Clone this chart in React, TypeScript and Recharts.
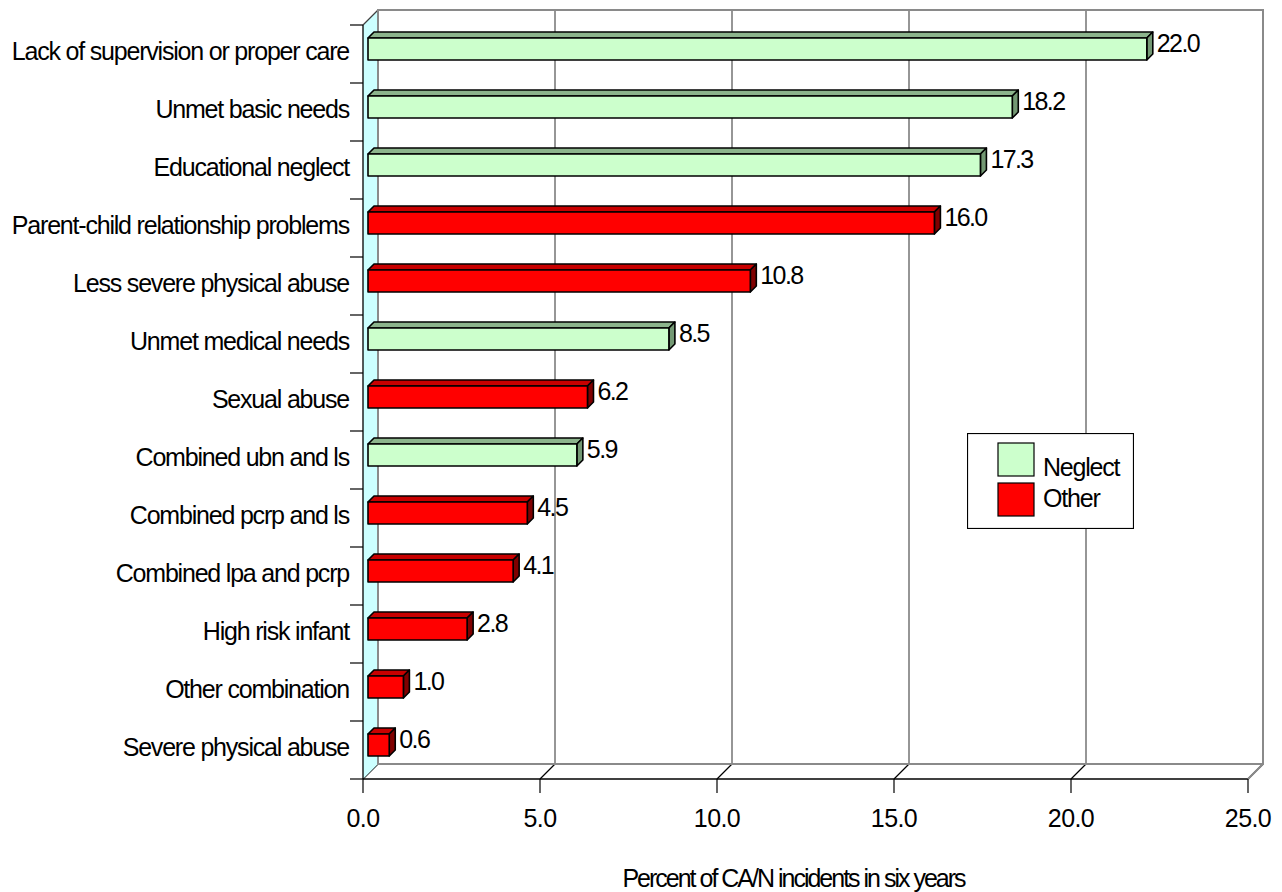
import React from "react";
import {
  BarChart,
  Bar,
  XAxis,
  YAxis,
  CartesianGrid,
  Legend,
  LabelList,
  ReferenceArea,
} from "recharts";

const categories = [
  "Lack of supervision or proper care",
  "Unmet basic needs",
  "Educational neglect",
  "Parent-child relationship problems",
  "Less severe physical abuse",
  "Unmet medical needs",
  "Sexual abuse",
  "Combined ubn and ls",
  "Combined pcrp and ls",
  "Combined lpa and pcrp",
  "High risk infant",
  "Other combination",
  "Severe physical abuse",
];

const neglect = [22.0, 18.2, 17.3, null, null, 8.5, null, 5.9, null, null, null, null, null];
const other = [null, null, null, 16.0, 10.8, null, 6.2, null, 4.5, 4.1, 2.8, 1.0, 0.6];

const xTicks = [0, 5, 10, 15, 20, 25];

const chartData = categories.map((name, i) => ({
  name,
  neglect: neglect[i],
  other: other[i],
}));

const FONT = "'Liberation Sans', Arial, sans-serif";
const DEPTH = 6; // bar extrusion
const BACK = 10; // back wall shift (right / up)
const FRONT = 5; // front plane shift (left / down)

const GREEN = { front: "#CCFFCC", top: "#8CB48C", side: "#739873" };
const RED = { front: "#FF0000", top: "#C80000", side: "#800000" };

const labelText = {
  fontFamily: FONT,
  fontSize: 25,
  letterSpacing: "-1.2px",
  fill: "#000",
} as const;

const numberText = { ...labelText, letterSpacing: "-1.6px" } as const;
const tickText = { ...labelText, letterSpacing: "-0.6px" } as const;
const titleText = { ...labelText, letterSpacing: "-2px" } as const;

const Box3D = (props: any) => {
  const { x, y, width, height, colors } = props;
  if (!(width > 0)) return <g />;
  const d = DEPTH;
  const r = x + width;
  const b = y + height;
  return (
    <g stroke="#000" strokeWidth={1.6} strokeLinejoin="round">
      <polygon
        points={`${x},${y} ${x + d},${y - d} ${r + d},${y - d} ${r},${y}`}
        fill={colors.top}
      />
      <polygon
        points={`${r},${y} ${r + d},${y - d} ${r + d},${b - d} ${r},${b}`}
        fill={colors.side}
      />
      <rect x={x} y={y} width={width} height={height} fill={colors.front} />
    </g>
  );
};

const ValueLabel = (props: any) => {
  const { x, y, width, height, value } = props;
  if (value === null || value === undefined) return null;
  return (
    <text x={x + width + DEPTH + 4} y={y + height / 2 + 3} style={numberText}>
      {Number(value).toFixed(1)}
    </text>
  );
};

// back wall, left wall, floor and category boundary ticks
const Walls = (props: any) => {
  const { x, y, width, height } = props;
  const rows = categories.length;
  const fx = x - FRONT;
  const bx = x + BACK;
  const bottom = y + height;
  const ticks = [];
  for (let i = 0; i <= rows; i++) {
    const ty = y + FRONT + (height * i) / rows;
    ticks.push(<line key={i} x1={fx - 13} y1={ty} x2={fx} y2={ty} stroke="#000" strokeWidth={1.2} />);
  }
  return (
    <g>
      <polygon
        points={`${fx},${y + FRONT} ${bx},${y - BACK} ${bx},${bottom - BACK} ${fx},${bottom + FRONT}`}
        fill="#CCFFFF"
      />
      <line x1={fx} y1={y + FRONT} x2={bx} y2={y - BACK} stroke="#404040" strokeWidth={1.2} />
      <rect
        x={bx}
        y={y - BACK}
        width={width}
        height={height}
        fill="none"
        stroke="#8A8A8A"
        strokeWidth={2}
      />
      <line x1={fx} y1={y + FRONT} x2={fx} y2={bottom + FRONT} stroke="#000" strokeWidth={1.3} />
      <line
        x1={fx}
        y1={bottom + FRONT}
        x2={fx + width}
        y2={bottom + FRONT}
        stroke="#000"
        strokeWidth={1.3}
      />
      <line
        x1={fx + width}
        y1={bottom + FRONT}
        x2={bx + width}
        y2={bottom - BACK}
        stroke="#8A8A8A"
        strokeWidth={2}
      />
      {ticks}
    </g>
  );
};

const GridLine = (props: any) => {
  const { x1, y1, y2 } = props;
  const gx = x1 + BACK;
  return (
    <g key={`g-${x1}`}>
      <line x1={gx} y1={y1 - BACK} x2={gx} y2={y2 - BACK} stroke="#5E5E5E" strokeWidth={1.3} />
      <line x1={gx} y1={y2 - BACK} x2={x1 - FRONT} y2={y2 + FRONT} stroke="#000" strokeWidth={1.2} />
    </g>
  );
};

const CategoryTick = (props: any) => {
  const { x, y, payload } = props;
  return (
    <text x={x - 19} y={y + 11} textAnchor="end" style={labelText}>
      {payload.value}
    </text>
  );
};

const ValueTick = (props: any) => {
  const { x, y, payload } = props;
  const tx = x - FRONT;
  return (
    <g>
      <line x1={tx} y1={y + FRONT} x2={tx} y2={y + 19} stroke="#000" strokeWidth={1.2} />
      <text x={tx} y={y + 53} textAnchor="middle" style={tickText}>
        {Number(payload.value).toFixed(1)}
      </text>
    </g>
  );
};

const AxisTitle = (props: any) => {
  const { viewBox } = props;
  if (!viewBox) return null;
  return (
    <text
      x={viewBox.x + viewBox.width / 2 - 17}
      y={viewBox.y + 113}
      textAnchor="middle"
      style={titleText}
    >
      Percent of CA/N incidents in six years
    </text>
  );
};

const LegendBox = (props: any) => {
  const items = props.payload || [];
  return (
    <svg width={167} height={96} style={{ display: "block" }}>
      <rect x={0.5} y={0.5} width={166} height={95} fill="#fff" stroke="#000" strokeWidth={1.2} />
      {items.map((item: any, i: number) => (
        <g key={item.value}>
          <rect
            x={31}
            y={10 + i * 40}
            width={36}
            height={33}
            fill={item.color}
            stroke="#000"
            strokeWidth={1.2}
          />
          <text x={76} y={43 + i * 31} style={labelText}>
            {item.value}
          </text>
        </g>
      ))}
    </svg>
  );
};

export default function App() {
  return (
    <div style={{ position: "absolute", left: 0, top: 0, background: "#fff" }}>
      <BarChart
        width={1282}
        height={892}
        data={chartData}
        layout="vertical"
        margin={{ top: 20, right: 29, bottom: 58, left: 0 }}
      >
        <ReferenceArea x1={0} x2={25} shape={<Walls />} ifOverflow="visible" />
        <CartesianGrid horizontal={false} vertical={(p: any) => <GridLine {...p} />} />
        <XAxis
          type="number"
          domain={[0, 25]}
          ticks={xTicks}
          interval={0}
          height={60}
          axisLine={false}
          tickLine={false}
          tickSize={0}
          tickMargin={0}
          tick={<ValueTick />}
          label={<AxisTitle />}
        />
        <YAxis
          type="category"
          dataKey="name"
          width={368}
          interval={0}
          axisLine={false}
          tickLine={false}
          tickSize={0}
          tickMargin={0}
          tick={<CategoryTick />}
        />
        <Legend
          layout="vertical"
          align="center"
          verticalAlign="middle"
          content={<LegendBox />}
          wrapperStyle={{ position: "absolute", left: 967, top: 433, width: 167, height: 96 }}
        />
        <Bar
          dataKey="neglect"
          name="Neglect"
          stackId="a"
          fill={GREEN.front}
          barSize={22}
          isAnimationActive={false}
          shape={(p: any) => <Box3D {...p} colors={GREEN} />}
        >
          <LabelList dataKey="neglect" content={<ValueLabel />} />
        </Bar>
        <Bar
          dataKey="other"
          name="Other"
          stackId="a"
          fill={RED.front}
          barSize={22}
          isAnimationActive={false}
          shape={(p: any) => <Box3D {...p} colors={RED} />}
        >
          <LabelList dataKey="other" content={<ValueLabel />} />
        </Bar>
      </BarChart>
    </div>
  );
}
